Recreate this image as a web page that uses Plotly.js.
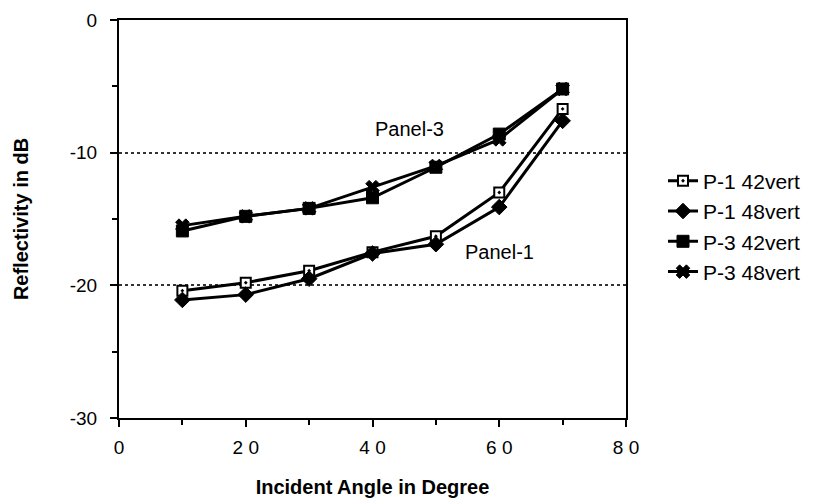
<!DOCTYPE html>
<html><head><meta charset="utf-8">
<script src="https://cdn.plot.ly/plotly-3.0.1.min.js"></script>
<style>body{margin:0;background:#fff}#chart{width:825px;height:501px}</style>
</head><body><div id="chart"></div>
<script>
var angles = [10, 20, 30, 40, 50, 60, 70];
var p1_42vert = [-20.4, -19.8, -18.9, -17.5, -16.3, -13.0, -6.7];
var p1_48vert = [-21.1, -20.7, -19.5, -17.6, -16.9, -14.1, -7.6];
var p3_42vert = [-15.9, -14.8, -14.2, -13.4, -11.1, -8.6, -5.2];
var p3_48vert = [-15.5, -14.8, -14.2, -12.6, -11.0, -9.0, -5.2];
var seriesNames = ["P-1 42vert", "P-1 48vert", "P-3 42vert", "P-3 48vert"];
var xTickVals = [0, 20, 40, 60, 80];
var xTickText = ["0", "2 0", "4 0", "6 0", "8 0"];
var yTickVals = [0, -10, -20, -30];
var yTickText = ["0", "-10", "-20", "-30"];
var annoText = ["Panel-3", "Panel-1"];

var F = "Liberation Sans, Arial, sans-serif";
function tr(y, name, sym, size, fill, mlw) {
  return {x: angles, y: y, name: name, type: 'scatter', mode: 'lines+markers',
    line: {color: '#000', width: 3},
    marker: {symbol: sym, size: size, color: fill, line: {color: '#000', width: mlw}}};
}
var data = [
  tr(p1_42vert, seriesNames[0], 'square-dot', 10, '#fff', 2),
  tr(p1_48vert, seriesNames[1], 'diamond', 12, '#000', 1),
  tr(p3_42vert, seriesNames[2], 'square', 12, '#000', 1),
  tr(p3_48vert, seriesNames[3], 'x', 12, '#000', 1)
];
var layout = {
  width: 825, height: 501,
  margin: {l: 119, r: 199, t: 20, b: 83},
  paper_bgcolor: '#fff', plot_bgcolor: '#fff',
  showlegend: true,
  legend: {x: 1.073, y: 0.481, xanchor: 'left', yanchor: 'middle',
    font: {family: F, size: 21, color: '#000'}, tracegroupgap: 0, itemwidth: 30},
  xaxis: {range: [0, 80], tickvals: xTickVals, ticktext: xTickText,
    showline: true, linecolor: '#000', linewidth: 2, mirror: true,
    ticks: 'outside', ticklen: 7, tickwidth: 2, tickcolor: '#000',
    minor: {tickvals: [10, 30, 50, 70], ticks: 'outside', ticklen: 5, tickwidth: 2, tickcolor: '#000'},
    showgrid: false, zeroline: false, ticklabelstandoff: 4,
    tickfont: {family: F, size: 19, color: '#000'},
    title: {text: 'Incident Angle in Degree', standoff: 23,
      font: {family: F, size: 20, color: '#000', weight: 'bold'}}},
  yaxis: {range: [-30, 0], tickvals: yTickVals, ticktext: yTickText,
    showline: true, linecolor: '#000', linewidth: 2, mirror: true,
    ticks: 'outside', ticklen: 7, tickwidth: 2, tickcolor: '#000',
    minor: {tickvals: [-5, -15, -25], ticks: 'outside', ticklen: 5, tickwidth: 2, tickcolor: '#000', showgrid: false},
    showgrid: true, gridcolor: '#333', gridwidth: 2, griddash: 'dot', zeroline: false,
    ticklabelstandoff: 9,
    tickfont: {family: F, size: 19, color: '#000'},
    title: {text: 'Reflectivity in dB', standoff: 36,
      font: {family: F, size: 20, color: '#000', weight: 'bold'}}},
  annotations: [
    {x: 45.9, y: -8.2, text: annoText[0], showarrow: false, font: {family: F, size: 20, color: '#000'}},
    {x: 60, y: -17.5, text: annoText[1], showarrow: false, font: {family: F, size: 20, color: '#000'}}
  ]
};
Plotly.newPlot('chart', data, layout, {displayModeBar: false});
</script></body></html>
